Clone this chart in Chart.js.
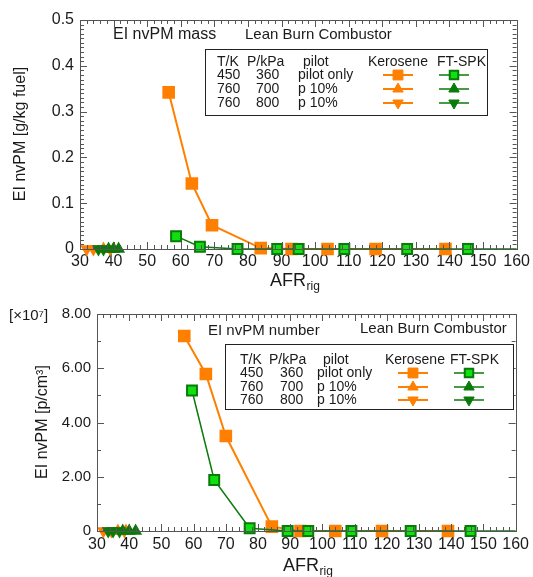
<!DOCTYPE html>
<html><head><meta charset="utf-8">
<script src="https://cdn.jsdelivr.net/npm/chart.js@4.4.0/dist/chart.umd.min.js"></script>
<style>
html,body{margin:0;padding:0;background:#fff;width:533px;height:577px;overflow:hidden;}
#w1{position:absolute;left:0;top:0;width:533px;height:300px;}
#w2{position:absolute;left:0;top:290px;width:533px;height:287px;}
</style></head><body>
<div id="w1"><canvas id="c1" width="533" height="300"></canvas></div>
<div id="w2"><canvas id="c2" width="533" height="287"></canvas></div>
<script>
// ---------- DATA ----------
const xTicks = [30,40,50,60,70,80,90,100,110,120,130,140,150,160];
const massTicks = [0,0.1,0.2,0.3,0.4,0.5];
const numberTicks = [0,2,4,6,8]; // x 10^7

// EI nvPM mass [g/kg fuel]
const massKeroPilotAFR = [56.4,63.3,69.3,83.8,93.0,103.7,118.0,138.8];
const massKeroPilotEI  = [0.342,0.143,0.052,0.002,0,0,0,0];
const massFTPilotAFR   = [58.6,65.7,76.9,88.7,95.1,108.7,127.4,145.5,160];
const massFTPilotEI    = [0.028,0.005,0,0,0,0,0,0,0];
const massKero700AFR   = [37.0,40.0];
const massKero700EI    = [0,0];
const massFT700AFR     = [38.5,40.0,41.5];
const massFT700EI      = [0,0,0];
const massKero800AFR   = [32.0,34.0,39.0];
const massKero800EI    = [0,0,0];
const massFT800AFR     = [35.5,37.0];
const massFT800EI      = [0,0];

// EI nvPM number [p/cm3] in units of 10^7
const numKeroPilotAFR = [57.1,63.8,70.0,84.3,93.2,104.0,118.5,139.0];
const numKeroPilotEI  = [7.19,5.79,3.50,0.16,0,0,0,0];
const numFTPilotAFR   = [59.5,66.4,77.4,89.2,95.6,109.0,127.4,146.0,160];
const numFTPilotEI    = [5.18,1.88,0.10,0,0,0,0,0,0];
const numKero700AFR   = [36.5,39.0];
const numKero700EI    = [0,0];
const numFT700AFR     = [38.0,40.0,42.0];
const numFT700EI      = [0,0,0];
const numKero800AFR   = [32.0,34.5,38.5];
const numKero800EI    = [0,0,0];
const numFT800AFR     = [33.5,35.0,37.0];
const numFT800EI      = [0,0,0];

const legendRows = [["T/K","P/kPa","pilot"],["450","360","pilot only"],["760","700","p 10%"],["760","800","p 10%"]];

// ---------- STYLE ----------
const ORANGE = '#ff8000';
const GREEN_FILL = '#10e010';
const GREEN_DARK = '#0a7a0a';
const FONT = "'Liberation Sans', Arial, sans-serif";
const TXT = '#1a1a1a';

function pts(xs, ys){ return xs.map((x,i)=>({x:x,y:ys[i]})); }

function mkSets(kpA,kpE,fpA,fpE,k7A,k7E,f7A,f7E,k8A,k8E,f8A,f8E){
  const lastIdxF = fpA.length-1;
  return [
    {data:pts(k8A,k8E), borderColor:ORANGE, backgroundColor:ORANGE, pointStyle:'triangle', rotation:180, pointRadius:6, borderWidth:1.5, order:6},
    {data:pts(k7A,k7E), borderColor:ORANGE, backgroundColor:ORANGE, pointStyle:'triangle', pointRadius:6, borderWidth:1.5, order:5},
    {data:pts(kpA,kpE), borderColor:ORANGE, backgroundColor:ORANGE, pointStyle:'rect', pointRadius:7.5, borderWidth:2, order:4},
    {data:pts(f8A,f8E), borderColor:GREEN_DARK, backgroundColor:GREEN_DARK, pointStyle:'triangle', rotation:180, pointRadius:6, borderWidth:1.5, order:3},
    {data:pts(f7A,f7E), borderColor:GREEN_DARK, backgroundColor:GREEN_DARK, pointStyle:'triangle', pointRadius:6, borderWidth:1.5, order:2},
    {data:pts(fpA,fpE), borderColor:GREEN_DARK, backgroundColor:GREEN_FILL, pointStyle:'rect',
      pointRadius:(c)=> c.dataIndex===lastIdxF ? 0 : 7, pointBorderWidth:2, borderWidth:1.5, order:1}
  ].map(d=>Object.assign({showLine:true, clip:false, tension:0, pointHoverRadius:d.pointRadius}, d));
}

function drawMarker(ctx, style, rot, fill, stroke, x, y, r, bw){
  ctx.save();
  ctx.fillStyle = fill; ctx.strokeStyle = stroke; ctx.lineWidth = bw;
  Chart.helpers.drawPoint(ctx, {pointStyle:style, rotation:rot, radius:r, borderWidth:bw}, x, y);
  ctx.restore();
}

function decoPlugin(cfg){
  return {
    id:'deco_'+cfg.id,
    afterDraw(chart){
      const ctx = chart.ctx, a = chart.chartArea, xs = chart.scales.x, ys = chart.scales.y;
      ctx.save();
      // frame
      ctx.strokeStyle = '#555'; ctx.lineWidth = 1;
      ctx.strokeRect(Math.round(a.left)+0.5, Math.round(a.top)+0.5, Math.round(a.right-a.left), Math.round(a.bottom-a.top));
      // x ticks (inward, top and bottom)
      ctx.beginPath();
      for (let v = xs.min; v <= xs.max + 1e-9; v += cfg.xMinor){
        const p = Math.round(xs.getPixelForValue(v))+0.5;
        const major = Math.abs(v/10 - Math.round(v/10)) < 1e-6;
        const L = major ? 7 : 4;
        ctx.moveTo(p, a.bottom); ctx.lineTo(p, a.bottom - L);
        ctx.moveTo(p, a.top); ctx.lineTo(p, a.top + L);
      }
      // y ticks (left and right)
      const n = Math.round((ys.max-ys.min)/cfg.yMinor);
      for (let i = 0; i <= n; i++){
        const v = ys.min + i*cfg.yMinor;
        const p = Math.round(ys.getPixelForValue(v))+0.5;
        const major = i % cfg.yRatio === 0;
        const L = major ? 7 : 4;
        ctx.moveTo(a.left, p); ctx.lineTo(a.left + L, p);
        ctx.moveTo(a.right, p); ctx.lineTo(a.right - L, p);
      }
      ctx.stroke();

      ctx.fillStyle = TXT; ctx.textBaseline = 'middle';
      // y title
      ctx.save();
      ctx.translate(cfg.yTitle.x, cfg.yTitle.y); ctx.rotate(-Math.PI/2);
      ctx.textAlign = 'center'; ctx.font = cfg.yTitle.size+'px '+FONT;
      ctx.fillText(cfg.yTitle.text, 0, 0);
      ctx.restore();
      // x title AFR_rig
      ctx.textAlign = 'left'; ctx.textBaseline = 'alphabetic';
      ctx.font = '18px '+FONT;
      ctx.fillText('AFR', cfg.xTitle.x, cfg.xTitle.y);
      const w = ctx.measureText('AFR').width;
      ctx.font = '12px '+FONT;
      ctx.fillText('rig', cfg.xTitle.x + w + 0.5, cfg.xTitle.y + 4);
      // extra texts
      ctx.textBaseline = 'middle';
      cfg.texts.forEach(t=>{ ctx.font = t.size+'px '+FONT; ctx.textAlign = t.align||'left'; ctx.fillText(t.text, t.x, t.y); });
      // legend box
      const L = cfg.legend;
      ctx.fillStyle = '#fff';
      ctx.fillRect(L.x, L.y, L.w, L.h);
      ctx.strokeStyle = '#222'; ctx.lineWidth = 1;
      ctx.strokeRect(L.x+0.5, L.y+0.5, L.w, L.h);
      ctx.fillStyle = TXT; ctx.font = L.size+'px '+FONT; ctx.textAlign = 'left';
      legendRows.forEach((row,ri)=>{
        const yy = L.rowY[ri];
        row.forEach((s,ci)=>{
          let cx = L.cols[ci];
          if (ri === 0 && ci === 2) cx = L.pilotHead;
          if (ri > 0 && ci === 1) cx = L.pCol;
          if (ri > 0 && ci === 2) cx = L.pilotCol;
          ctx.fillText(s, cx, yy);
        });
      });
      ctx.fillText('Kerosene', L.keroX, L.rowY[0]);
      ctx.fillText('FT-SPK', L.ftX, L.rowY[0]);
      const mk = [['rect',0],['triangle',0],['triangle',180]];
      for (let i = 0; i < 3; i++){
        const yy = L.rowY[i+1];
        // kerosene
        ctx.strokeStyle = ORANGE; ctx.lineWidth = 2;
        ctx.beginPath(); ctx.moveTo(L.kc-15, yy); ctx.lineTo(L.kc+15, yy); ctx.stroke();
        drawMarker(ctx, mk[i][0], mk[i][1], ORANGE, ORANGE, L.kc, yy, i===0?7:6, 1);
        // ft-spk
        ctx.strokeStyle = GREEN_DARK; ctx.lineWidth = 1.5;
        ctx.beginPath(); ctx.moveTo(L.fc-15, yy); ctx.lineTo(L.fc+15, yy); ctx.stroke();
        if (i === 0) drawMarker(ctx, 'rect', 0, GREEN_FILL, GREEN_DARK, L.fc, yy, 6, 2);
        else drawMarker(ctx, mk[i][0], mk[i][1], GREEN_DARK, GREEN_DARK, L.fc, yy, 6, 1);
      }
      ctx.restore();
    }
  };
}

function baseOptions(o){
  return {
    responsive:false, animation:false, devicePixelRatio:1,
    layout:{padding:o.padding},
    plugins:{legend:{display:false}, tooltip:{enabled:false}},
    scales:{
      x:{type:'linear', min:30, max:160,
        afterBuildTicks:(s)=>{ s.ticks = xTicks.map(v=>({value:v})); },
        afterFit:(s)=>{ s.height = o.xH; },
        grid:{display:false, drawTicks:false}, border:{display:false},
        ticks:{font:{family:FONT,size:o.xFont}, color:TXT, padding:o.xPad, maxRotation:0, autoSkip:false}},
      y:{type:'linear', min:o.yMin, max:o.yMax,
        afterBuildTicks:(s)=>{ s.ticks = o.yTicks.map(v=>({value:v})); },
        afterFit:(s)=>{ s.width = o.yW; },
        grid:{display:false, drawTicks:false}, border:{display:false},
        ticks:{font:{family:FONT,size:o.yFont}, color:TXT, padding:o.yPad, autoSkip:false, callback:o.yFmt}}
    }
  };
}

// ---------- CHART 1: mass ----------
new Chart(document.getElementById('c1'), {
  type:'scatter',
  data:{datasets: mkSets(massKeroPilotAFR,massKeroPilotEI,massFTPilotAFR,massFTPilotEI,
    massKero700AFR,massKero700EI,massFT700AFR,massFT700EI,massKero800AFR,massKero800EI,massFT800AFR,massFT800EI)},
  options: baseOptions({padding:{left:0,right:14,top:20,bottom:10}, xH:41, yW:80, xFont:16, yFont:16, xPad:3, yPad:6,
    yMin:0, yMax:0.5, yTicks:massTicks, yFmt:(v)=> v===0 ? '0' : Number(v).toFixed(1)}),
  plugins:[decoPlugin({id:1, xMinor:2, yMinor:0.01, yRatio:10,
    yTitle:{text:'EI nvPM [g/kg fuel]', x:21, y:134, size:16},
    xTitle:{x:270, y:286},
    texts:[{text:'EI nvPM mass', x:113, y:35, size:16},{text:'Lean Burn Combustor', x:245, y:35, size:15}],
    legend:{x:205, y:49, w:282, h:66, size:14, rowY:[62,75,89,103], cols:[217,247,303], pilotHead:303, pCol:256, pilotCol:298,
      keroX:368, ftX:437, kc:398, fc:454}
  })]
});

// ---------- CHART 2: number ----------
new Chart(document.getElementById('c2'), {
  type:'scatter',
  data:{datasets: mkSets(numKeroPilotAFR,numKeroPilotEI,numFTPilotAFR,numFTPilotEI,
    numKero700AFR,numKero700EI,numFT700AFR,numFT700EI,numKero800AFR,numKero800EI,numFT800AFR,numFT800EI)},
  options: baseOptions({padding:{left:0,right:14,top:24,bottom:0}, xH:46, yW:97, xFont:16, yFont:15, xPad:4, yPad:6,
    yMin:0, yMax:8, yTicks:numberTicks, yFmt:(v)=> v===0 ? '0' : Number(v).toFixed(2)}),
  plugins:[decoPlugin({id:2, xMinor:2, yMinor:1, yRatio:2,
    yTitle:{text:'EI nvPM [p/cm³]', x:43, y:132, size:16},
    xTitle:{x:283, y:281},
    texts:[{text:'[×10⁷]', x:9, y:26, size:15},{text:'EI nvPM number', x:208, y:41, size:15},{text:'Lean Burn Combustor', x:360, y:39, size:15}],
    legend:{x:225, y:54, w:288, h:65, size:14, rowY:[70,83,97,110], cols:[240,269,323], pilotHead:323, pCol:280, pilotCol:317,
      keroX:385, ftX:450, kc:413, fc:469}
  })]
});
</script>
</body></html>
